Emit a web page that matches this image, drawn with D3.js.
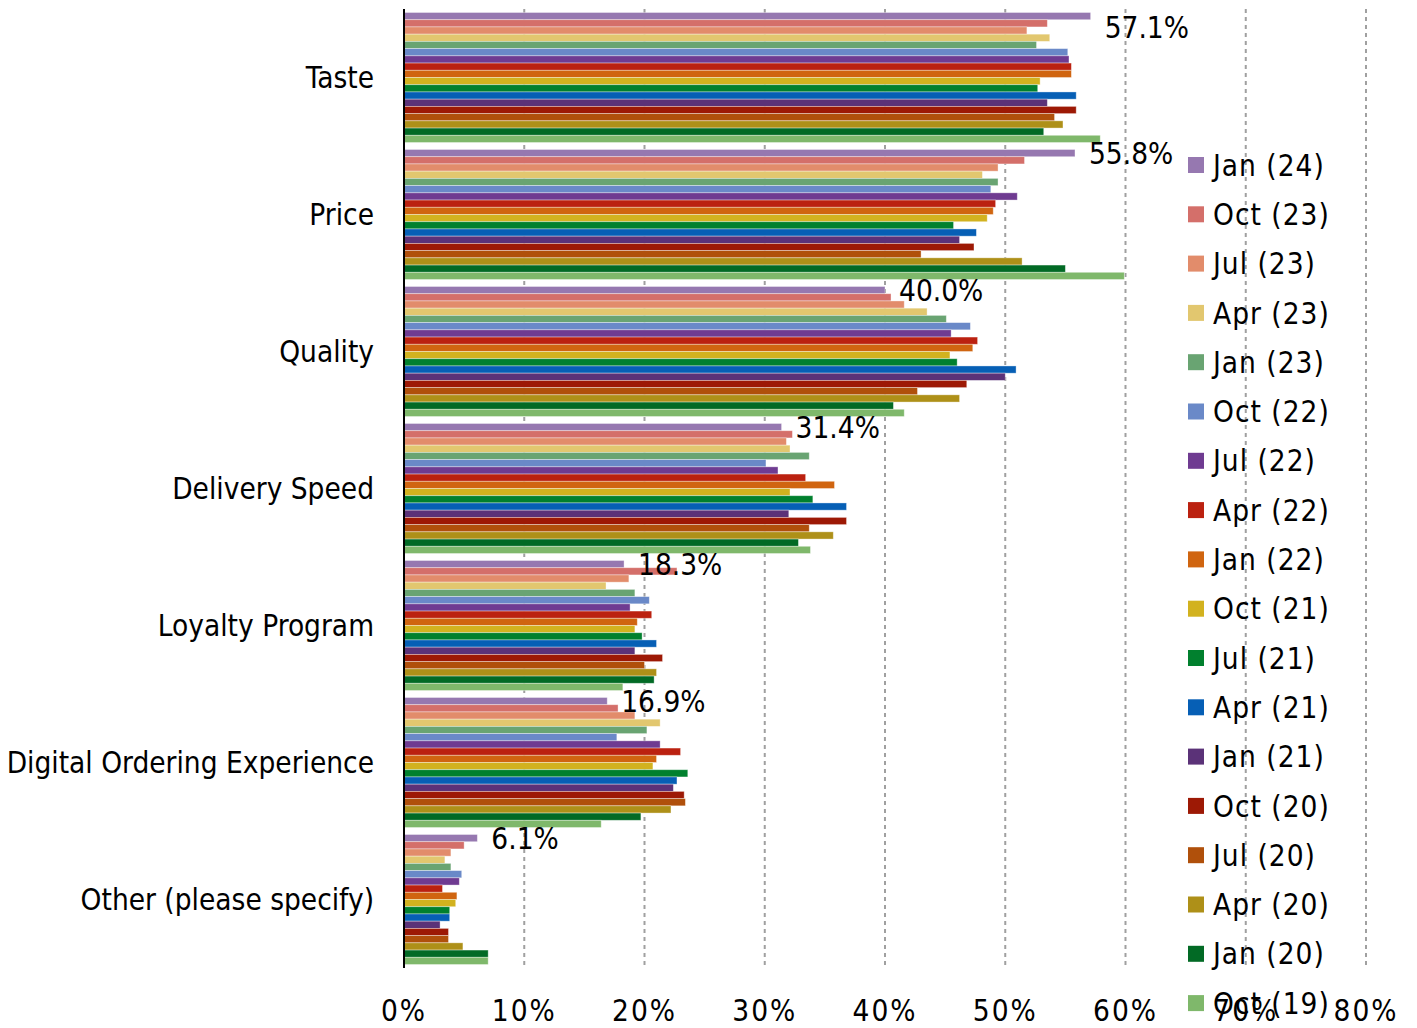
<!DOCTYPE html>
<html>
<head>
<meta charset="utf-8">
<script src="https://cdn.jsdelivr.net/npm/d3@7"></script>
<style>
  body { margin: 0; background: #fff; }
  svg { display: block; font-family: "DejaVu Sans Condensed", "DejaVu Sans", sans-serif; }
</style>
</head>
<body>
<div id="chart"></div>
<script>
// categories, top to bottom
const categories = ["Taste", "Price", "Quality", "Delivery Speed", "Loyalty Program",
                    "Digital Ordering Experience", "Other (please specify)"];

// series, in the order drawn inside each group (top to bottom)
const seriesNames = ["Jan (24)", "Oct (23)", "Jul (23)", "Apr (23)", "Jan (23)", "Oct (22)",
                     "Jul (22)", "Apr (22)", "Jan (22)", "Oct (21)", "Jul (21)", "Apr (21)",
                     "Jan (21)", "Oct (20)", "Jul (20)", "Apr (20)", "Jan (20)", "Oct (19)"];

const seriesColors = ["#9678b0", "#d46f6a", "#e28c6b", "#e2c76f", "#69a472", "#6a89c8",
                      "#6f3b91", "#bb2110", "#d06510", "#d2b21f", "#01802e", "#065fb5",
                      "#5b3278", "#9d1905", "#b0500b", "#ae9018", "#026a25", "#7fb86b"];

// values (%) per category, one per series
const taste    = [57.1, 53.5, 51.8, 53.7, 52.6, 55.2, 55.3, 55.5, 55.5, 52.9, 52.7, 55.9, 53.5, 55.9, 54.1, 54.8, 53.2, 57.9];
const price    = [55.8, 51.6, 49.4, 48.1, 49.4, 48.8, 51.0, 49.2, 49.0, 48.5, 45.7, 47.6, 46.2, 47.4, 43.0, 51.4, 55.0, 59.9];
const quality  = [40.0, 40.5, 41.6, 43.5, 45.1, 47.1, 45.5, 47.7, 47.3, 45.4, 46.0, 50.9, 50.0, 46.8, 42.7, 46.2, 40.7, 41.6];
const delivery = [31.4, 32.3, 31.8, 32.1, 33.7, 30.1, 31.1, 33.4, 35.8, 32.1, 34.0, 36.8, 32.0, 36.8, 33.7, 35.7, 32.8, 33.8];
const loyalty  = [18.3, 22.7, 18.7, 16.8, 19.2, 20.4, 18.8, 20.6, 19.4, 19.2, 19.8, 21.0, 19.2, 21.5, 20.0, 21.0, 20.8, 18.2];
const digital  = [16.9, 17.8, 19.2, 21.3, 20.2, 17.7, 21.3, 23.0, 21.0, 20.7, 23.6, 22.7, 22.4, 23.3, 23.4, 22.2, 19.7, 16.4];
const other    = [6.1, 5.0, 3.9, 3.4, 3.9, 4.8, 4.6, 3.2, 4.4, 4.3, 3.8, 3.8, 3.0, 3.7, 3.7, 4.9, 7.0, 7.0];

const values = [taste, price, quality, delivery, loyalty, digital, other];
const xTicks = [0, 10, 20, 30, 40, 50, 60, 70, 80];

const width = 1417, height = 1028;
const margin = {top: 9, left: 404, right: 51, bottom: 60};
const plotW = width - margin.left - margin.right;
const plotH = height - margin.top - margin.bottom;

const svg = d3.select('#chart').append('svg')
    .attr('width', width)
    .attr('height', height);

const x = d3.scaleLinear().domain([0, 80]).range([0, plotW]);
const y = d3.scaleBand().domain(categories).range([0, plotH]).paddingInner(0.051).paddingOuter(0.0255);
const ys = d3.scaleBand().domain(seriesNames).range([0, y.bandwidth()]);
const color = d3.scaleOrdinal().domain(seriesNames).range(seriesColors);

const g = svg.append('g')
    .attr('transform', 'translate(' + margin.left + ',' + margin.top + ')');

// dashed gridlines
g.append('g')
    .selectAll('line')
    .data(xTicks.slice(1))
    .join('line')
    .attr('x1', d => x(d)).attr('x2', d => x(d))
    .attr('y1', 0).attr('y2', plotH)
    .attr('stroke', '#a0a0a0')
    .attr('stroke-width', 2)
    .attr('stroke-dasharray', '4,4');

// bars
const groups = g.append('g')
    .selectAll('g')
    .data(categories)
    .join('g')
    .attr('transform', d => 'translate(0,' + y(d) + ')');

groups.selectAll('rect')
    .data((d, i) => values[i].map((v, j) => ({name: seriesNames[j], value: v})))
    .join('rect')
    .attr('x', 0)
    .attr('y', d => ys(d.name))
    .attr('width', d => x(d.value))
    .attr('height', ys.bandwidth())
    .attr('fill', d => color(d.name))
    .attr('stroke', 'rgba(255,255,255,0.45)')
    .attr('stroke-width', 0.8);

// value labels for the first series (Jan 24)
groups.append('text')
    .attr('x', (d, i) => x(values[i][0]) + 14)
    .attr('y', d => Math.max(ys(seriesNames[0]) + ys.bandwidth() / 2, 18 - y(d)))
    .attr('dy', '0.36em')
    .attr('font-size', 29.5)
    .attr('fill', '#000')
    .text((d, i) => values[i][0].toFixed(1) + '%');

// y axis line
g.append('line')
    .attr('x1', 0).attr('x2', 0)
    .attr('y1', 0).attr('y2', plotH)
    .attr('stroke', '#000')
    .attr('stroke-width', 2);

// category labels
g.append('g')
    .selectAll('text')
    .data(categories)
    .join('text')
    .attr('x', -30)
    .attr('y', d => y(d) + y.bandwidth() / 2)
    .attr('dy', '0.36em')
    .attr('text-anchor', 'end')
    .attr('font-size', 29.5)
    .text(d => d);

// x tick labels
g.append('g')
    .selectAll('text')
    .data(xTicks)
    .join('text')
    .attr('x', d => x(d))
    .attr('y', plotH + 42)
    .attr('dy', '0.36em')
    .attr('text-anchor', 'middle')
    .attr('font-size', 29.5)
    .attr('letter-spacing', 2)
    .text(d => d + '%');

// legend
const legend = svg.append('g')
    .attr('transform', 'translate(1188,165)');

const item = legend.selectAll('g')
    .data(seriesNames)
    .join('g')
    .attr('transform', (d, i) => 'translate(0,' + (i * 49.3) + ')');

item.append('rect')
    .attr('x', 0).attr('y', -8)
    .attr('width', 16).attr('height', 16)
    .attr('fill', d => color(d));

item.append('text')
    .attr('x', 25)
    .attr('y', 0)
    .attr('dy', '0.36em')
    .attr('font-size', 29.5)
    .attr('letter-spacing', 1)
    .text(d => d);
</script>
</body>
</html>
